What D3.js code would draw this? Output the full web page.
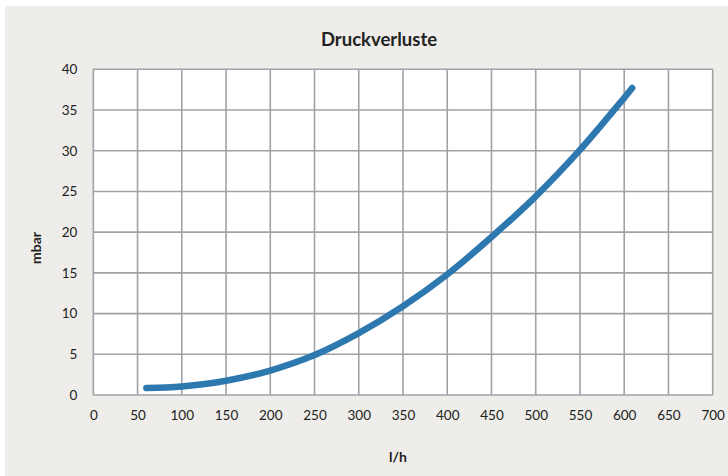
<!DOCTYPE html>
<html><head><meta charset="utf-8">
<script src="https://cdn.jsdelivr.net/npm/d3@7"></script>
<style>body{margin:0;background:#fff;}svg{display:block;}</style>
</head><body>
<svg id="c" width="728" height="476"></svg>
<script>
const title = "Druckverluste";
const xTitle = "l/h";
const yTitle = "mbar";
const flow = [60, 100, 150, 200, 250, 300, 350, 400, 450, 500, 550, 600, 609];
const pressure = [0.85, 1.05, 1.75, 3.0, 4.9, 7.6, 10.9, 14.8, 19.4, 24.4, 30.1, 36.5, 37.7];
const xTicks = [0,50,100,150,200,250,300,350,400,450,500,550,600,650,700];
const yTicks = [0,5,10,15,20,25,30,35,40];

const svg = d3.select("#c");
const font = "Lato, 'Open Sans', sans-serif";
svg.append("rect").attr("x",5).attr("y",6).attr("width",723).attr("height",470).attr("fill","#eeede9");

const L=93.3, R=712.7, T=69.3, B=395;
const x = d3.scaleLinear().domain([0,700]).range([L,R]);
const y = d3.scaleLinear().domain([0,40]).range([B,T]);

svg.append("rect").attr("x",L).attr("y",T).attr("width",R-L).attr("height",B-T).attr("fill","#fff");

const grid = svg.append("g").attr("stroke","#a2a2a6").attr("stroke-width",1.6);
grid.selectAll(".v").data(xTicks).join("line")
  .attr("x1",d=>x(d)).attr("x2",d=>x(d)).attr("y1",T).attr("y2",B);
grid.selectAll(".h").data(yTicks).join("line")
  .attr("x1",L).attr("x2",R).attr("y1",d=>y(d)).attr("y2",d=>y(d));

const xa = svg.append("g").attr("transform",`translate(0,${B})`)
  .call(d3.axisBottom(x).tickValues(xTicks).tickSize(0).tickPadding(15).tickFormat(d3.format("d")));
xa.select(".domain").remove();
xa.selectAll("text").attr("font-family",font).attr("font-size",13.5).attr("fill","#222");

const ya = svg.append("g").attr("transform",`translate(${L},0)`)
  .call(d3.axisLeft(y).tickValues(yTicks).tickSize(0).tickPadding(16).tickFormat(d3.format("d")));
ya.select(".domain").remove();
ya.selectAll("text").attr("font-family",font).attr("font-size",13.5).attr("fill","#222");

const data = flow.map((f,i)=>({f, p:pressure[i]}));
svg.append("path").datum(data)
  .attr("fill","none").attr("stroke","#2e78b0").attr("stroke-width",6.5)
  .attr("stroke-linecap","round").attr("stroke-linejoin","round")
  .attr("d", d3.line().x(d=>x(d.f)).y(d=>y(d.p)).curve(d3.curveCatmullRom.alpha(0.5)));

svg.append("text").attr("x",379).attr("y",46).attr("text-anchor","middle")
  .attr("font-family",font).attr("font-weight","bold").attr("font-size",18.5).attr("fill","#222").text(title);
svg.append("text").attr("x",398).attr("y",462).attr("text-anchor","middle")
  .attr("font-family",font).attr("font-weight","bold").attr("font-size",14).attr("fill","#222").text(xTitle);
svg.append("text").attr("transform","translate(41,248) rotate(-90)").attr("text-anchor","middle")
  .attr("font-family",font).attr("font-weight","bold").attr("font-size",14).attr("fill","#222").text(yTitle);
</script>
</body></html>
